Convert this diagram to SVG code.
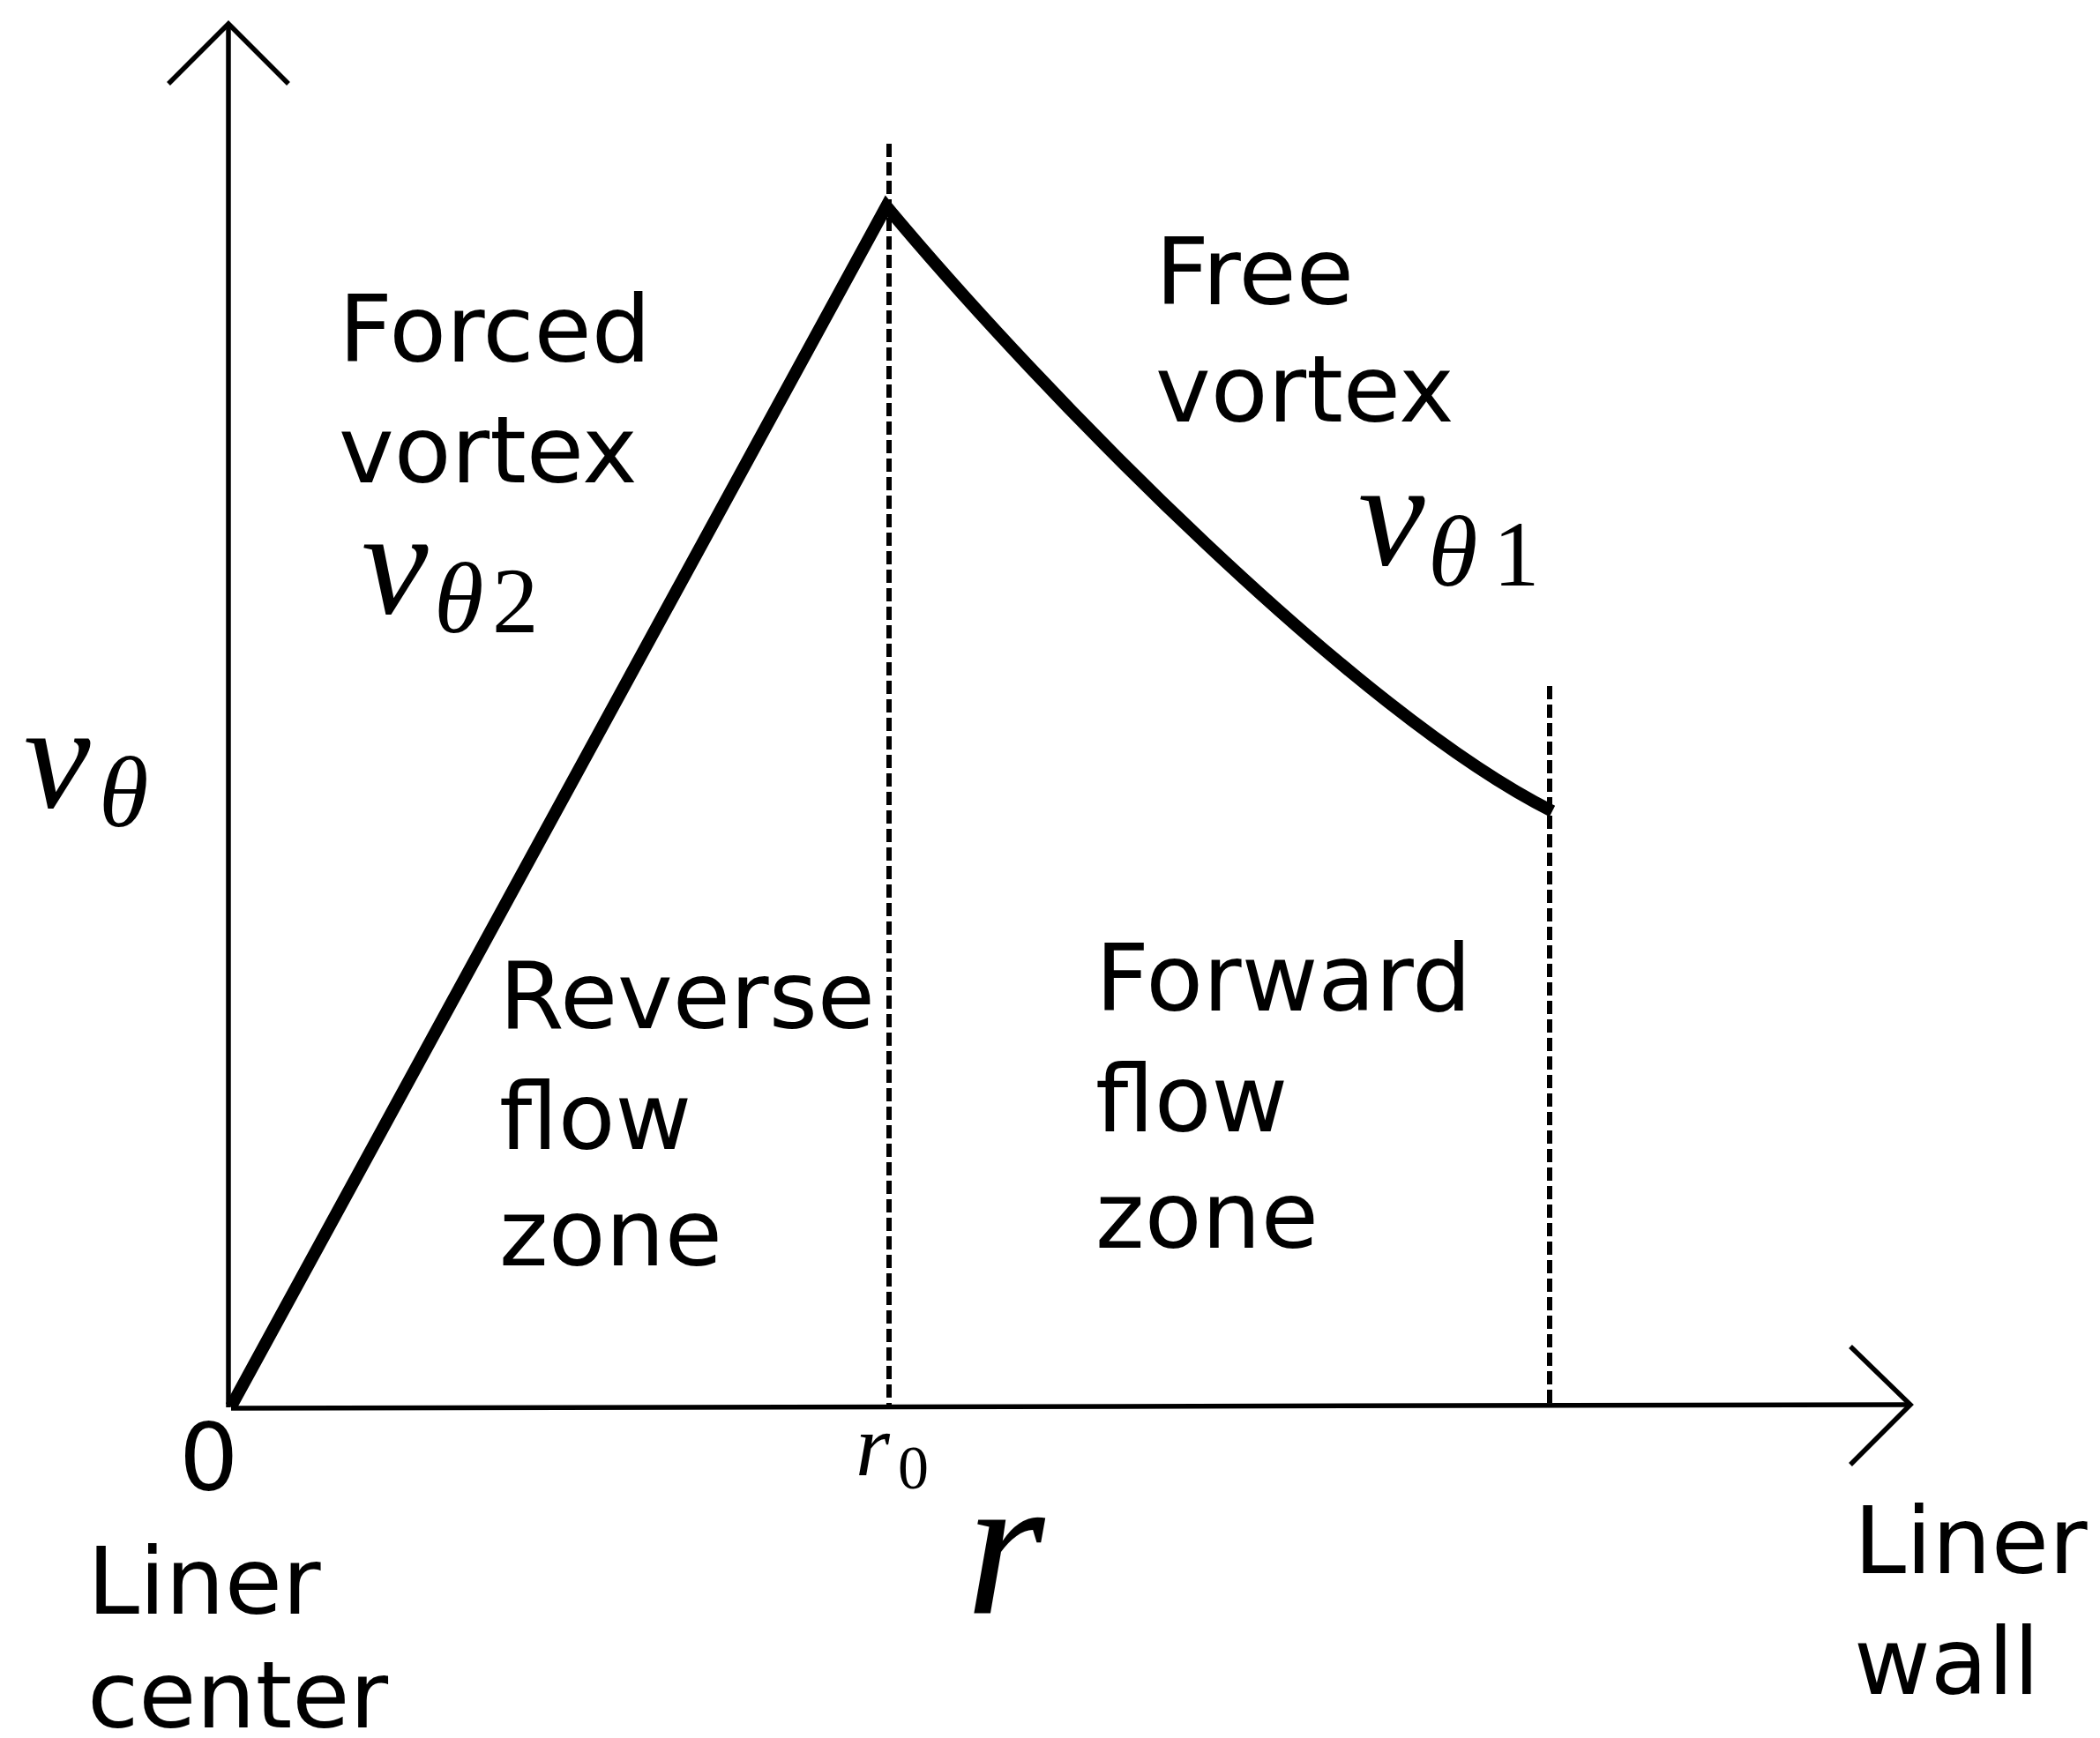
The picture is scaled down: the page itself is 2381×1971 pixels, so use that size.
<svg xmlns="http://www.w3.org/2000/svg" width="2381" height="1971" viewBox="0 0 2381 1971">
<style>
.lbl{font-family:"DejaVu Sans",Verdana,sans-serif;font-size:106px;fill:#000}
.mi{font-family:"Liberation Serif","Times New Roman",serif;font-style:italic;fill:#000}
.mr{font-family:"Liberation Serif","Times New Roman",serif;fill:#000}
.axis{fill:none;stroke:#000;stroke-width:5.5}
.dash{fill:none;stroke:#000;stroke-width:6;stroke-dasharray:15 6}
.curve{fill:none;stroke:#000;stroke-width:14;stroke-linejoin:miter}
</style>
<rect width="2381" height="1971" fill="#fff"/>
<g id="connectors">
<line class="dash" x1="1008" y1="163" x2="1008" y2="1594"/>
<line class="dash" x1="1757" y1="778" x2="1757" y2="1592"/>
<line class="axis" x1="259" y1="27" x2="259" y2="1596"/>
<polyline class="axis" points="191,95 259,27 327,95"/>
<line class="axis" x1="262" y1="1597" x2="2166" y2="1593"/>
<polyline class="axis" points="2098,1527 2166,1593 2098,1661"/>
<path class="curve" d="M262,1595 L1005,234 C1185,450 1540,810 1760,920"/>
</g>
<g id="forced"><text class="lbl" x="384" y="410">Forced</text><text class="lbl" x="384" y="547">vortex</text></g>
<g id="free"><text class="lbl" x="1310" y="345">Free</text><text class="lbl" x="1310" y="478">vortex</text></g>
<g id="vt2"><text class="mi" x="410" y="695" font-size="170">v</text><text class="mi" x="492" y="717" font-size="115">θ</text><text class="mr" x="558" y="717" font-size="105">2</text></g>
<g id="vt1"><text class="mi" x="1540" y="640" font-size="170">v</text><text class="mi" x="1619" y="664" font-size="115">θ</text><text class="mr" x="1693" y="664" font-size="105">1</text></g>
<g id="vt"><text class="mi" x="27" y="915" font-size="170">v</text><text class="mi" x="112" y="937" font-size="115">θ</text></g>
<g id="reverse"><text class="lbl" x="566" y="1166">Reverse</text><text class="lbl" x="566" y="1303">flow</text><text class="lbl" x="566" y="1435">zone</text></g>
<g id="forward"><text class="lbl" x="1242" y="1146">Forward</text><text class="lbl" x="1242" y="1283">flow</text><text class="lbl" x="1242" y="1415">zone</text></g>
<g id="zero"><text class="lbl" x="203" y="1690">0</text></g>
<g id="r0"><text class="mi" x="970" y="1673" font-size="100">r</text><text class="mr" x="1018" y="1688" font-size="70">0</text></g>
<g id="r"><text class="mi" x="1095" y="1830" font-size="230">r</text></g>
<g id="center"><text class="lbl" x="99" y="1830">Liner</text><text class="lbl" x="99" y="1959">center</text></g>
<g id="wall"><text class="lbl" x="2102" y="1784">Liner</text><text class="lbl" x="2102" y="1921">wall</text></g>
</svg>
